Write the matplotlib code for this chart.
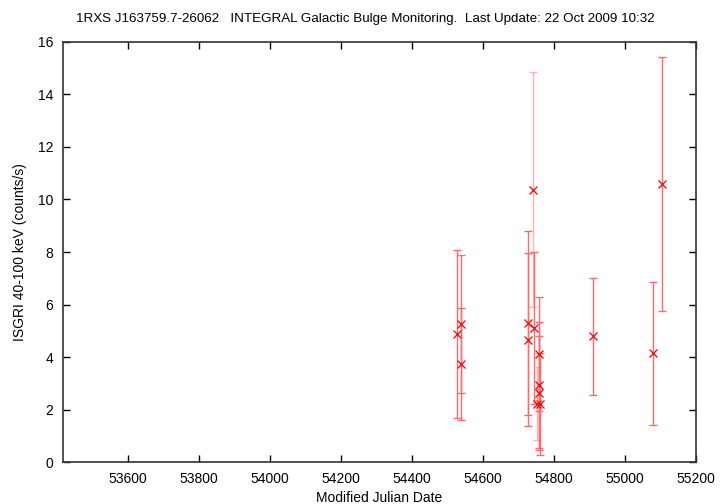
import numpy as np
import matplotlib.pyplot as plt

plt.rcParams['font.family'] = ['Liberation Sans', 'DejaVu Sans']

# light curve points
mjd = [54527, 54538, 54537, 54727, 54727, 54741, 54743, 54751,
       54760, 54758, 54758, 54759, 54910, 55079, 55104]
rate = [4.89, 5.27, 3.72, 5.30, 4.66, 10.37, 5.10, 2.22,
        2.22, 2.63, 2.95, 4.10, 4.79, 4.14, 10.59]
err = [3.20, 2.63, 2.13, 3.50, 3.30, 4.48, 2.90, 1.40,
       1.95, 2.17, 2.40, 2.17, 2.23, 2.73, 4.83]
faint = [False, False, False, False, False, True, False, True,
         False, False, False, False, False, False, False]

title = "1RXS J163759.7-26062   INTEGRAL Galactic Bulge Monitoring.  Last Update: 22 Oct 2009 10:32"

fig = plt.figure(figsize=(7.2, 5.04), dpi=100)
ax = fig.add_axes([0.0875, 0.0833, 0.879, 0.8334])

for x, y, e, f in zip(mjd, rate, err, faint):
    col = '#ffb0b0' if f else '#ff6a6a'
    ax.errorbar(x, y, yerr=e, fmt='none', ecolor=col, elinewidth=1.0,
                capsize=2.6, capthick=1.0)
ax.plot(mjd, rate, 'x', color='red', markersize=5.5, markeredgewidth=0.9)

ax.set_xlim(53417, 55200)
ax.set_ylim(0, 16)
ax.set_xticks(np.arange(53600, 55201, 200))
ax.set_yticks(np.arange(0, 17, 2))
ax.tick_params(direction='in', length=5, width=1, top=True, right=True,
               labelsize=10, pad=7, colors='black')
for s in ax.spines.values():
    s.set_color('#333333')
    s.set_linewidth(1.2)

ax.set_xlabel("Modified Julian Date", fontsize=10, labelpad=4)
ax.set_ylabel("ISGRI 40-100 keV (counts/s)", fontsize=10, labelpad=8)
fig.text(0.508, 0.962, title, ha='center', va='center', fontsize=9.6)

fig.savefig("out.png", dpi=100)
